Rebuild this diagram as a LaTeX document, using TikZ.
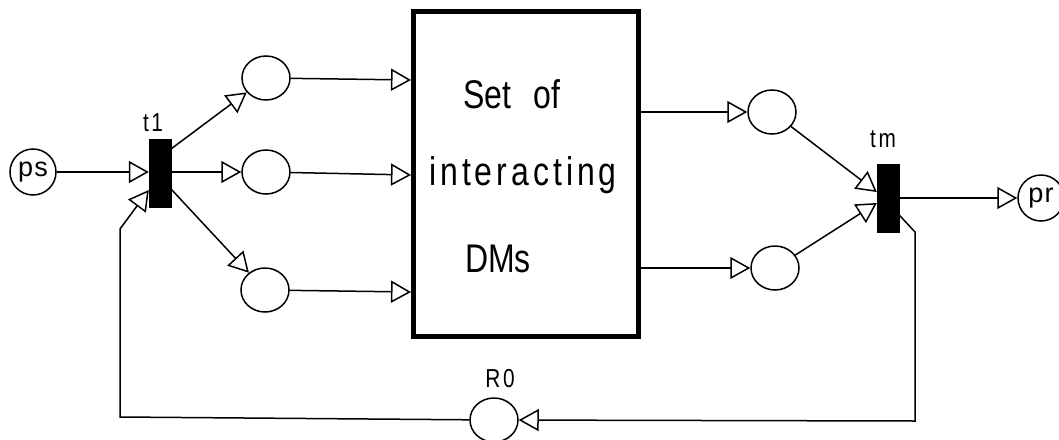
\documentclass[tikz,border=0pt]{standalone}
\usepackage{fontspec}
\setmainfont{Liberation Sans}
\newfontfamily\narrowfont[FakeStretch=0.8]{Liberation Sans}
\newfontfamily\spacedfont[FakeStretch=0.8,LetterSpace=10]{Liberation Sans}
\newfontfamily\placefont[LetterSpace=5]{Liberation Sans}
\usetikzlibrary{arrows.meta,shapes.geometric}
\begin{document}
\begin{tikzpicture}[x=1pt,y=-1pt,
  every node/.style={font=\narrowfont},
  place/.style={draw,ellipse,line width=1.5pt,minimum width=48pt,minimum height=44pt,inner sep=0pt},
  endplace/.style={draw,circle,line width=1.5pt,minimum size=46pt,inner sep=0pt,font=\placefont\fontsize{27}{29}\selectfont},
  trans/.style={draw,fill=black,rectangle,minimum width=22pt,minimum height=68pt,inner sep=0pt},
  box/.style={draw,line width=5pt,rectangle,minimum width=225pt,minimum height=325pt,inner sep=0pt},
  lbl/.style={font=\spacedfont\fontsize{26}{28}\selectfont,inner sep=0pt},
  big/.style={font=\narrowfont\fontsize{40}{44}\selectfont,inner sep=0pt,anchor=base},
  arr/.style={line width=1.5pt,-{Triangle[open,length=20pt,width=22pt,line width=1.5pt]}}]
\useasboundingbox (0,0) rectangle (1059,439);
% places and transitions
\node[endplace] (ps) at (33,172) {ps};
\node[trans] (t1) at (160,173) {};
\node[lbl] (t1l) at (153,123) {t1};
\node[place] (u1) at (266,78) {};
\node[place] (m1) at (266,172) {};
\node[place] (l1) at (265,290) {};
\node[box] (dms) at (526,174) {};
\node[big] (s1) at (512,108) {Set\,\, of};
\node[big,font=\spacedfont\fontsize{40}{44}\selectfont] (s2) at (523,185) {interacting};
\node[big] (s3) at (498,272) {DMs};
\node[place] (u2) at (772,112) {};
\node[place] (l2) at (775,268) {};
\node[trans] (tm) at (888,198) {};
\node[lbl] (tml) at (883,139) {tm};
\node[endplace] (pr) at (1041,198) {pr};
\node[place] (r0) at (494,420) {};
\node[lbl] (r0l) at (500,379) {R0};
\coordinate (fl1) at (120,417);
\coordinate (fl2) at (120,229);
\coordinate (fr1) at (915,232);
\coordinate (fr2) at (915,421);
% arcs
\draw[arr] (ps) -- (t1.west |- ps);
\draw[arr] ([yshift=-10pt]t1.north east) -- (u1);
\draw[arr] (t1.east |- m1) -- (m1);
\draw[arr] ([yshift=18pt]t1.south east) -- (l1);
\draw[arr] (u1) -- (dms.west |- 0,80);
\draw[arr] (m1) -- (dms.west |- 0,175);
\draw[arr] (l1) -- (dms.west |- 0,292);
\draw[arr] (dms.east |- u2) -- (u2);
\draw[arr] (dms.east |- l2) -- (l2);
\draw[arr] (u2) -- ([yshift=6pt]tm.west);
\draw[arr] (l2) -- ([yshift=-5pt]tm.west);
\draw[arr] (tm.east) -- (pr);
\draw[arr,line join=miter] ([yshift=-17pt]tm.east) -- (fr1) -- (fr2) -- (r0);
\draw[arr] (r0) -- (fl1) -- (fl2) -- ([yshift=-17pt]t1.west);
\end{tikzpicture}
\end{document}
